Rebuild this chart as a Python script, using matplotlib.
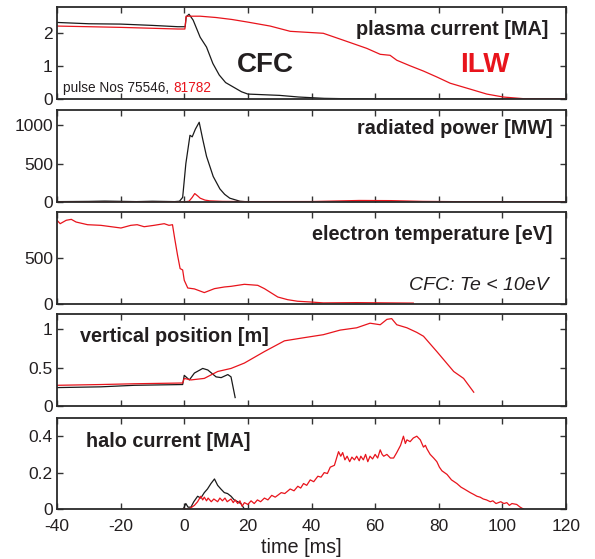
import numpy as np
import matplotlib
matplotlib.use("Agg")
import matplotlib.pyplot as plt

plt.rcParams['font.family'] = ['Liberation Sans', 'DejaVu Sans']
plt.rcParams['axes.unicode_minus'] = False

BLACK = '#1a1a1a'
RED = '#e8141c'
TXT = '#231f20'

# plasma current [MA]
ip_cfc_t = [-40, -30, -20, -10, -2, 0.3, 0.6, 1.5, 2.8, 5, 7, 9, 11, 13, 15.5, 18, 20, 25, 30, 36, 40, 44, 50, 60, 80, 120]
ip_cfc = [2.33, 2.29, 2.28, 2.24, 2.2, 2.2, 2.5, 2.58, 2.4, 1.88, 1.58, 1.08, 0.73, 0.5, 0.36, 0.22, 0.15, 0.13, 0.11, 0.06, 0.04, 0.02, 0.01, 0.0, 0.0, 0.0]
ip_ilw_t = [-40, -20, -2, 0.2, 0.6, 5, 10, 15, 20, 27, 33.3, 43.7, 50, 57.4, 61.6, 64.7, 66.8, 71, 75.2, 79.4, 83.6, 89.9, 95.1, 100.3, 106.6, 120]
ip_ilw = [2.22, 2.18, 2.13, 2.13, 2.52, 2.52, 2.48, 2.42, 2.34, 2.22, 2.06, 2.0, 1.79, 1.54, 1.36, 1.33, 1.18, 1.01, 0.85, 0.67, 0.48, 0.3, 0.15, 0.06, 0.01, 0.0]

# radiated power [MW]
pr_cfc_t = [-40, -30, -25, -15, -10, -3, -1.5, -0.5, 0.5, 1.8, 2.5, 3.5, 4.7, 5.8, 7, 9.1, 11.2, 12.7, 14.3, 17.5, 20, 40, 120]
pr_cfc = [5, 8, 12, 5, 10, 5, 10, 60, 500, 870, 850, 950, 1040, 820, 596, 333, 171, 100, 50, 10, 2, 0, 0]
pr_ilw_t = [-40, 0, 1.5, 2.5, 3.3, 4.2, 5, 6.5, 8, 12, 20, 40, 55, 65, 75, 90, 120]
pr_ilw = [0, 2, 10, 60, 110, 80, 50, 25, 15, 8, 5, 6, 20, 18, 8, 3, 2]

# electron temperature [eV]
te_t = [-40, -39, -37.1, -35.5, -34, -30.4, -26.2, -19.9, -16.8, -14.8, -12.6, -9.5, -6.3, -4.8, -3.7, -3.0, -2.1, -1.3, -0.5, 0, 1.1, 3.2, 6.3, 9.5, 12.6, 14.7, 18.9, 23.1, 25.2, 29.4, 32.5, 35.6, 39.6, 43.7, 54.2, 64.7, 72]
te = [910, 873, 910, 920, 891, 862, 855, 826, 855, 862, 840, 855, 873, 855, 862, 711, 529, 385, 370, 258, 174, 164, 124, 167, 185, 192, 214, 203, 167, 76, 47, 30, 22, 12, 15, 12, 10]

# vertical position [m]
zp_cfc_t = [-40, -26.2, -15.7, -0.5, 0.0, 1.6, 3.2, 5.8, 7.4, 10, 11.6, 13.7, 14.7, 16]
zp_cfc = [0.24, 0.25, 0.27, 0.28, 0.40, 0.34, 0.43, 0.49, 0.47, 0.38, 0.37, 0.41, 0.38, 0.11]
zp_ilw_t = [-40, -26.2, -15.7, -0.5, 0.0, 2.1, 6.3, 10.5, 14.7, 18.9, 25.2, 31.5, 37.5, 43.7, 49, 54.2, 58.4, 61.6, 63.7, 65.2, 66.8, 70, 73.1, 75.2, 79.4, 84.7, 87.8, 91]
zp_ilw = [0.27, 0.28, 0.29, 0.30, 0.36, 0.34, 0.36, 0.45, 0.49, 0.56, 0.71, 0.85, 0.89, 0.93, 0.99, 1.02, 1.08, 1.06, 1.13, 1.14, 1.06, 1.02, 0.96, 0.91, 0.71, 0.45, 0.36, 0.18]

# halo current [MA]
hc_cfc_t = [-0.3, 0.5, 1.2, 2.1, 3, 4.2, 5.2, 6.3, 7.3, 8.4, 9.5, 10.5, 11.5, 12.6, 13.6, 14.7, 15.7, 16.8, 17.8, 18.9, 20]
hc_cfc = [0.0, 0.03, 0.01, 0.01, 0.04, 0.07, 0.06, 0.09, 0.11, 0.14, 0.165, 0.13, 0.11, 0.09, 0.085, 0.07, 0.05, 0.04, 0.03, 0.0, 0.0]
hc_ilw_t = [-0.5, 1.5, 3.2, 4.2, 5.2, 5.8, 6.3, 7.0, 7.5, 8.5, 9.3, 10.5, 11.2, 12, 12.8, 13.5, 14.7, 15.4, 16, 16.8, 17.5, 18.2, 18.9, 20, 21, 22, 23, 24, 25.2, 26.3, 27.5, 28.6, 30.5, 31.6, 33.3, 34.5, 35.7, 36.6, 37.5, 38.5, 39.6, 40.7, 42, 43, 44, 45, 45.9, 47.2, 48.5, 49.2, 49.8, 50.5, 51.2, 52, 52.7, 53.5, 54.2, 55, 55.5, 56.3, 57, 57.7, 58.4, 59.2, 60, 60.8, 61.6, 62.2, 62.7, 63.7, 64.8, 65.8, 66.8, 68, 68.9, 69.5, 70, 71, 72, 73.1, 74.2, 75.2, 75.8, 76.3, 77.3, 78.4, 79.4, 80.2, 81, 82.6, 84, 85.7, 87, 88, 89.9, 91, 92, 93, 94, 95, 96.2, 97, 98, 99.5, 100.5, 101.4, 102.2, 103, 104.5, 105.6, 106.6]
hc_ilw = [0.0, 0.0, 0.02, 0.04, 0.07, 0.05, 0.065, 0.045, 0.06, 0.04, 0.055, 0.04, 0.06, 0.045, 0.06, 0.04, 0.055, 0.035, 0.05, 0.03, 0.045, 0.015, 0.035, 0.025, 0.045, 0.03, 0.05, 0.04, 0.06, 0.05, 0.075, 0.065, 0.09, 0.085, 0.11, 0.10, 0.125, 0.115, 0.14, 0.13, 0.16, 0.15, 0.18, 0.175, 0.20, 0.195, 0.23, 0.24, 0.315, 0.29, 0.31, 0.27, 0.29, 0.26, 0.285, 0.27, 0.29, 0.265, 0.29, 0.27, 0.30, 0.26, 0.29, 0.275, 0.30, 0.28, 0.325, 0.30, 0.29, 0.30, 0.28, 0.28, 0.31, 0.35, 0.40, 0.36, 0.38, 0.37, 0.39, 0.40, 0.38, 0.34, 0.35, 0.33, 0.30, 0.28, 0.26, 0.23, 0.21, 0.19, 0.16, 0.14, 0.12, 0.11, 0.09, 0.08, 0.07, 0.065, 0.055, 0.05, 0.04, 0.045, 0.03, 0.04, 0.03, 0.035, 0.02, 0.03, 0.025, 0.01, 0.0]

fig = plt.figure(figsize=(5.95, 5.59), dpi=100)
W, H = 595.0, 559.0
left_px, right_px = 57, 566
panels_px = [(7, 99), (110, 202), (212, 304), (314, 406), (418, 509)]
ylims = [(0, 2.8), (0, 1200), (0, 1000), (0, 1.2), (0, 0.5)]
yticks = [[0, 1, 2], [0, 500, 1000], [0, 500], [0, 0.5, 1], [0, 0.2, 0.4]]
yticklabels = [['0', '1', '2'], ['0', '500', '1000'], ['0', '500'], ['0', '0.5', '1'], ['0', '0.2', '0.4']]

axes = []
for i, (top, bot) in enumerate(panels_px):
    ax = fig.add_axes([left_px / W, 1 - bot / H, (right_px - left_px) / W, (bot - top) / H])
    ax.set_xlim(-40, 120)
    ax.set_ylim(*ylims[i])
    ax.set_xticks(np.arange(-40, 121, 20))
    ax.set_yticks(yticks[i])
    ax.set_yticklabels(yticklabels[i])
    ax.tick_params(direction='in', top=True, right=True, length=4, width=1,
                   labelsize=12.5, colors='#333333', labelcolor=TXT)
    ax.tick_params(axis='y', pad=3)
    ax.tick_params(axis='x', pad=7)
    for s in ax.spines.values():
        s.set_linewidth(1.3)
        s.set_color('#2a2a2a')
    if i < 4:
        ax.set_xticklabels([])
    axes.append(ax)

lw = 0.9
fs_title = 14.3
ax = axes[0]
ax.plot(ip_cfc_t, ip_cfc, color=BLACK, lw=lw)
ax.plot(ip_ilw_t, ip_ilw, color=RED, lw=lw)
ax.text(0.965, 0.76, 'plasma current [MA]', transform=ax.transAxes, ha='right', va='center',
        fontsize=fs_title, fontweight='bold', color=TXT)
ax.text(0.41, 0.37, 'CFC', transform=ax.transAxes, ha='center', va='center',
        fontsize=20, fontweight='bold', color=TXT)
ax.text(0.84, 0.37, 'ILW', transform=ax.transAxes, ha='center', va='center',
        fontsize=20, fontweight='bold', color=RED)
t1 = ax.text(0.012, 0.12, 'pulse Nos 75546, ', transform=ax.transAxes, ha='left', va='center',
             fontsize=9.8, color=TXT)
fig.canvas.draw()
bb = t1.get_window_extent().transformed(ax.transAxes.inverted())
ax.text(bb.x1, 0.12, '81782', transform=ax.transAxes, ha='left', va='center',
        fontsize=9.8, color=RED)

ax = axes[1]
ax.plot(pr_cfc_t, pr_cfc, color=BLACK, lw=lw)
ax.plot(pr_ilw_t, pr_ilw, color=RED, lw=lw)
ax.text(0.973, 0.8, 'radiated power [MW]', transform=ax.transAxes, ha='right', va='center',
        fontsize=fs_title, fontweight='bold', color=TXT)

ax = axes[2]
ax.plot(te_t, te, color=RED, lw=lw)
ax.text(0.973, 0.75, 'electron temperature [eV]', transform=ax.transAxes, ha='right', va='center',
        fontsize=fs_title, fontweight='bold', color=TXT)
ax.text(0.965, 0.2, 'CFC: Te < 10eV', transform=ax.transAxes, ha='right', va='center',
        fontsize=14, fontstyle='italic', color=TXT)

ax = axes[3]
ax.plot(zp_cfc_t, zp_cfc, color=BLACK, lw=lw)
ax.plot(zp_ilw_t, zp_ilw, color=RED, lw=lw)
ax.text(0.045, 0.75, 'vertical position [m]', transform=ax.transAxes, ha='left', va='center',
        fontsize=fs_title, fontweight='bold', color=TXT)

ax = axes[4]
ax.plot(hc_cfc_t, hc_cfc, color=BLACK, lw=lw)
ax.plot(hc_ilw_t, hc_ilw, color=RED, lw=lw)
ax.text(0.057, 0.74, 'halo current [MA]', transform=ax.transAxes, ha='left', va='center',
        fontsize=fs_title, fontweight='bold', color=TXT)
ax.set_xlabel('time [ms]', fontsize=14.3, color=TXT, labelpad=3, x=0.48)

fig.savefig('out.png', dpi=100)
